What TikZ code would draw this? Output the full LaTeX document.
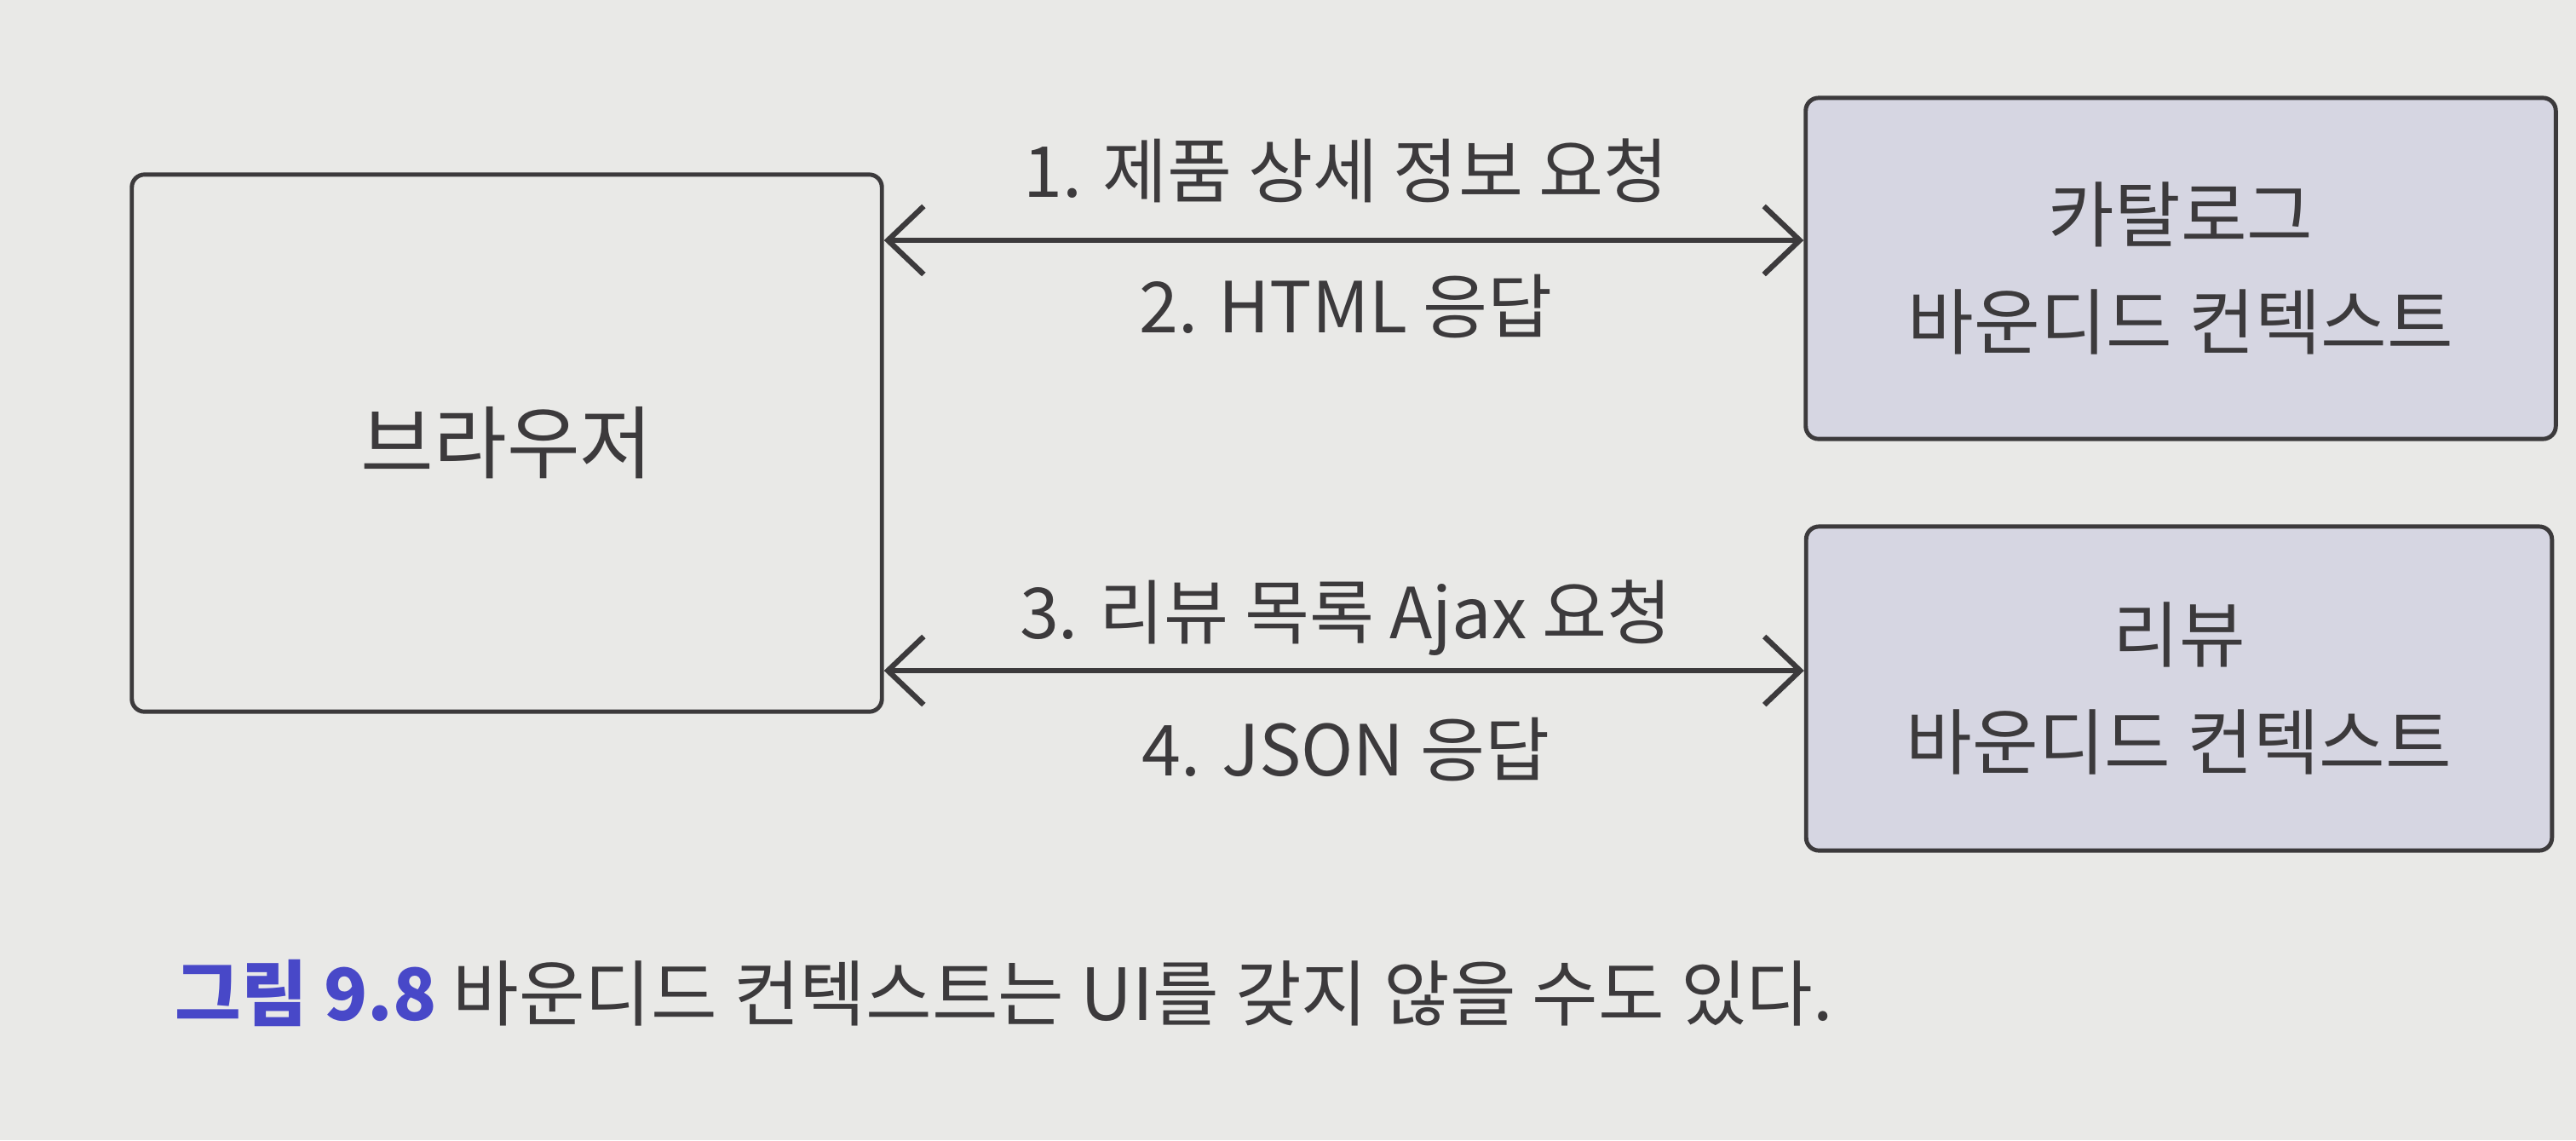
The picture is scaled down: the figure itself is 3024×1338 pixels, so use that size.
\documentclass[tikz,border=0pt]{standalone}
\usepackage{fontspec}
\setmainfont{Noto Sans CJK KR}
\usetikzlibrary{positioning}
\usetikzlibrary{arrows.meta}

\definecolor{paper}{RGB}{233,233,231}
\definecolor{boxfill}{RGB}{214,214,226}
\definecolor{inkgray}{RGB}{60,58,60}
\definecolor{figblue}{RGB}{72,72,200}

\tikzset{
  ctxbox/.style={draw=inkgray, line width=1.4pt, rounded corners=0.15cm,
    align=center, font=\fontsize{24}{36}\selectfont, text=inkgray},
  msg/.style={font=\fontsize{23.5}{28}\selectfont, text=inkgray, inner sep=0pt},
  link/.style={inkgray, line width=1.8pt,
    {Straight Barb[length=0.42cm,width=0.8cm]}-{Straight Barb[length=0.42cm,width=0.8cm]}},
}

\begin{document}
\begin{tikzpicture}[x=0.01cm,y=-0.01cm]

  % page
  \useasboundingbox[fill=paper] (0,0) rectangle (3024,1338);

  % boxes
  \node[ctxbox, minimum width=8.8cm, minimum height=6.3cm,
    font=\fontsize{26.5}{30}\selectfont] (browser) at (595,520) {브라우저};
  \node[ctxbox, fill=boxfill, minimum width=8.8cm, minimum height=4cm]
    (catalog) at (2560,315) {카탈로그\\바운디드 컨텍스트};
  \node[ctxbox, fill=boxfill, minimum width=8.75cm, minimum height=3.8cm]
    (review) at (2558,808) {리뷰\\바운디드 컨텍스트};

  % heights of the two links
  \coordinate (upper) at (0,282);
  \coordinate (lower) at (0,787);

  % links
  \draw[link] (browser.east |- upper) -- (catalog.west |- upper);
  \draw[link] (browser.east |- lower) -- (review.west |- lower);

  % messages
  \node[msg] (req1) at (1580,200) {1. 제품 상세 정보 요청};
  \node[msg] (res1) at (1580,360) {2. HTML 응답};
  \node[msg] (req2) at (1580,725) {3. 리뷰 목록 Ajax 요청};
  \node[msg] (res2) at (1580,880) {4. JSON 응답};

  % caption
  \node[msg, anchor=west, font=\fontsize{24}{28}\selectfont] (caption) at (205,1165)
    {\textcolor{figblue}{\bfseries 그림 9.8} 바운디드 컨텍스트는 UI를 갖지 않을 수도 있다.};

\end{tikzpicture}
\end{document}
